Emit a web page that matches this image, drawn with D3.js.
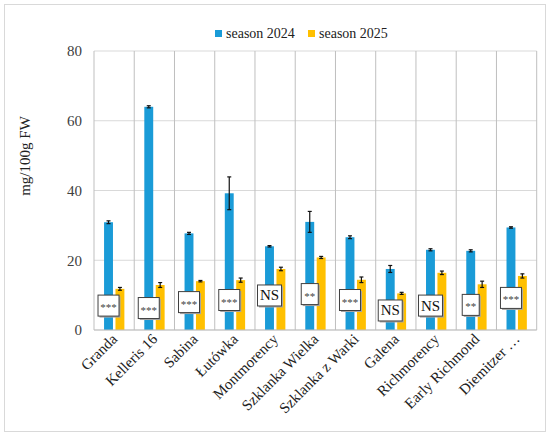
<!DOCTYPE html>
<html>
<head>
<meta charset="utf-8">
<script src="https://cdn.jsdelivr.net/npm/d3@7"></script>
<style>
  body { margin: 0; background: #fff; }
  svg { font-family: "Liberation Serif", "Times New Roman", serif; }
</style>
</head>
<body>
<svg id="chart" width="550" height="437"></svg>
<script>
// values
var cultivars = ["Granda", "Kelleris 16", "Sabina", "Łutówka", "Montmorency", "Szklanka Wielka",
  "Szklanka z Warki", "Galena", "Richmorency", "Early Richmond", "Diemitzer …"];
var season2024 = [30.9, 64.0, 27.7, 39.2, 24.0, 31.0, 26.6, 17.5, 23.0, 22.7, 29.4];
var err2024 = [0.4, 0.3, 0.3, 4.7, 0.2, 3.0, 0.4, 1.0, 0.3, 0.3, 0.2];
var season2025 = [11.8, 12.9, 14.0, 14.3, 17.5, 20.8, 14.4, 10.5, 16.4, 13.1, 15.5];
var err2025 = [0.4, 0.7, 0.2, 0.6, 0.5, 0.3, 0.8, 0.3, 0.5, 0.9, 0.6];
var signif = ["***", "***", "***", "***", "NS", "**", "***", "NS", "NS", "**", "***"];
var signifAt = [7.0, 6.3, 8.0, 8.6, 9.9, 10.3, 8.6, 5.6, 7.0, 7.2, 9.2];
var yTicks = [0, 20, 40, 60, 80];
var seriesNames = ["season 2024", "season 2025"];
var colors = ["#1a9bd7", "#ffc000"];

var svg = d3.select("#chart");
var plotLeft = 94, plotRight = 536.7, plotTop = 51, plotBottom = 330;

// outer frame
svg.append("rect")
  .attr("x", 4.5).attr("y", 4.5).attr("width", 541).attr("height", 427)
  .attr("fill", "#fff").attr("stroke", "#d9d9d9").attr("stroke-width", 1);

var x = d3.scaleBand().domain(cultivars).range([plotLeft, plotRight]).padding(0);
var x1 = d3.scaleBand().domain([0, 1])
  .range([x.bandwidth() * 0.25, x.bandwidth() * 0.755]).paddingInner(0.22);
var y = d3.scaleLinear().domain([0, 80]).range([plotBottom, plotTop]);

// horizontal grid
svg.append("g").selectAll("line").data(yTicks).join("line")
  .attr("x1", plotLeft).attr("x2", plotRight)
  .attr("y1", d => y(d)).attr("y2", d => y(d))
  .attr("stroke", "#d9d9d9").attr("stroke-width", 1);

// vertical separators between cultivars
var bounds = cultivars.map(c => x(c)).concat([plotRight]);
svg.append("g").selectAll("line").data(bounds).join("line")
  .attr("x1", d => d).attr("x2", d => d)
  .attr("y1", plotTop).attr("y2", plotBottom)
  .attr("stroke", "#bfbfbf").attr("stroke-width", 1);

// y axis labels
var yAxis = svg.append("g")
  .attr("transform", `translate(${plotLeft},0)`)
  .call(d3.axisLeft(y).tickValues(yTicks).tickSize(0).tickPadding(12));
yAxis.select(".domain").remove();
yAxis.selectAll("text").attr("font-size", 15).attr("fill", "#404040")
  .attr("font-family", "Liberation Serif, serif");

svg.append("text")
  .attr("transform", "translate(30,156) rotate(-90)")
  .attr("text-anchor", "middle")
  .attr("font-size", 15).attr("fill", "#222")
  .text("mg/100g FW");

// bars
var series = [season2024, season2025];
var errs = [err2024, err2025];
series.forEach(function(vals, s) {
  var g = svg.append("g");
  g.selectAll("rect").data(vals).join("rect")
    .attr("x", (d, i) => x(cultivars[i]) + x1(s))
    .attr("width", x1.bandwidth())
    .attr("y", d => y(d))
    .attr("height", d => y(0) - y(d))
    .attr("fill", colors[s]);

  // error bars
  var eb = svg.append("g").attr("stroke", "#111").attr("stroke-width", 1.2);
  vals.forEach(function(v, i) {
    var cx = x(cultivars[i]) + x1(s) + x1.bandwidth() / 2;
    var e = errs[s][i];
    eb.append("line").attr("x1", cx).attr("x2", cx).attr("y1", y(v + e)).attr("y2", y(v - e));
    eb.append("line").attr("x1", cx - 2).attr("x2", cx + 2).attr("y1", y(v + e)).attr("y2", y(v + e));
    eb.append("line").attr("x1", cx - 2).attr("x2", cx + 2).attr("y1", y(v - e)).attr("y2", y(v - e));
  });
});

// axis line
svg.append("line")
  .attr("x1", plotLeft).attr("x2", plotRight).attr("y1", plotBottom).attr("y2", plotBottom)
  .attr("stroke", "#bfbfbf");

// significance boxes
var boxes = svg.append("g");
signif.forEach(function(lab, i) {
  var cx = x(cultivars[i]) + x1(0) + x1.bandwidth() / 2;
  var cy = y(signifAt[i]);
  var w = lab === "NS" ? 24 : (lab === "**" ? 17 : 21);
  var h = 21;
  var b = boxes.append("g");
  b.append("rect")
    .attr("x", cx - w / 2 + 1.5).attr("y", cy - h / 2 + 1.5)
    .attr("width", w).attr("height", h).attr("fill", "#a6a6a6");
  b.append("rect")
    .attr("x", cx - w / 2).attr("y", cy - h / 2)
    .attr("width", w).attr("height", h)
    .attr("fill", "#fff").attr("stroke", "#404040").attr("stroke-width", 1);
  b.append("text")
    .attr("x", cx).attr("y", lab === "NS" ? cy + 5 : cy + 5.5)
    .attr("text-anchor", "middle")
    .attr("font-size", lab === "NS" ? 15 : 11)
    .attr("fill", lab === "NS" ? "#111" : "#444")
    .text(lab);
});

// category labels
svg.append("g").selectAll("text").data(cultivars).join("text")
  .attr("transform", d => `translate(${x(d) + x.bandwidth() / 2 + 4},${plotBottom + 10}) rotate(-45)`)
  .attr("text-anchor", "end")
  .attr("font-size", 15).attr("fill", "#222")
  .text(d => d);

// legend
var legendX = [215, 308];
seriesNames.forEach(function(n, s) {
  svg.append("rect")
    .attr("x", legendX[s]).attr("y", 30).attr("width", 7).attr("height", 7)
    .attr("fill", colors[s]);
  svg.append("text")
    .attr("x", legendX[s] + 11).attr("y", 37.5)
    .attr("font-size", 14).attr("fill", "#222")
    .text(n);
});
</script>
</body>
</html>
